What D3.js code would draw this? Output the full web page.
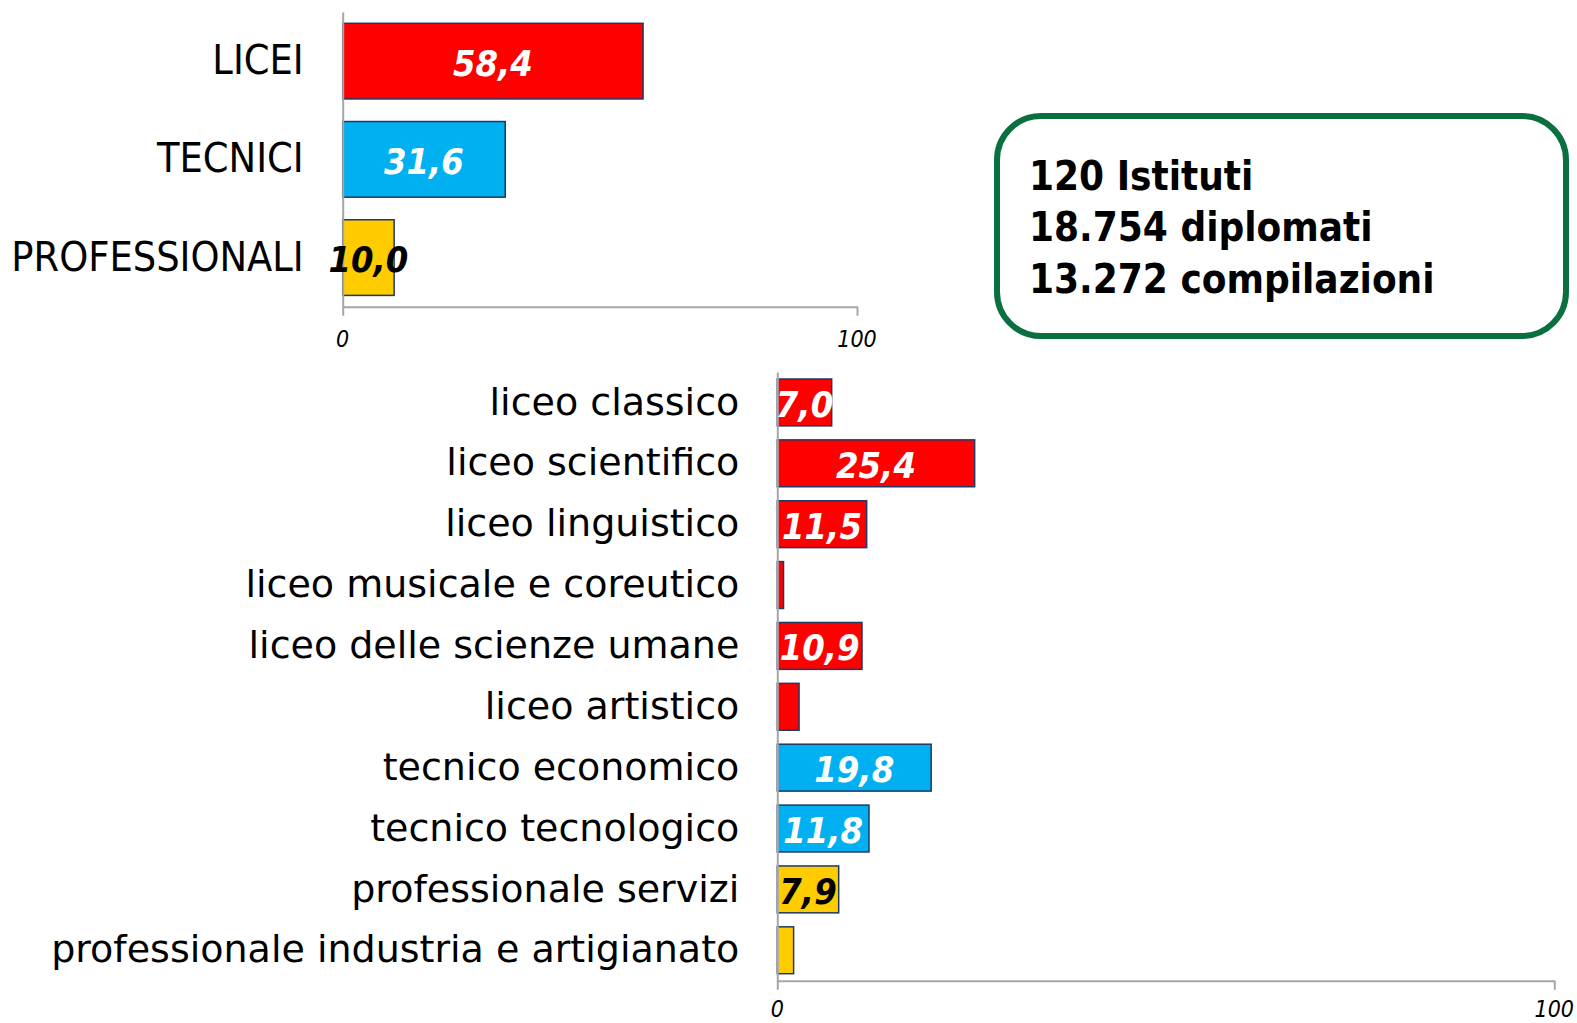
<!DOCTYPE html>
<html>
<head>
<meta charset="utf-8">
<script src="https://cdn.jsdelivr.net/npm/d3@7"></script>
<style>
  body { margin: 0; background: #fff; }
  svg { display: block; }
  .axis path, .axis line { stroke: #a6a6a6; stroke-width: 2; }
  .cat-label { fill: #000; }
  .tick-label { font-family: "DejaVu Sans Condensed", "DejaVu Sans", sans-serif; font-style: italic; font-size: 23px; fill: #000; }
  .value-label { font-family: "DejaVu Sans Condensed", "DejaVu Sans", sans-serif; font-style: italic; font-weight: bold; font-size: 36px; }
</style>
</head>
<body>
<div id="chart"></div>
<script>
// ---- data ----
const groupNames = ['LICEI', 'TECNICI', 'PROFESSIONALI'];
const groupValues = [58.4, 31.6, 10.0];
const groupTypes = ['liceo', 'tecnico', 'professionale'];

const schoolNames = [
  'liceo classico', 'liceo scientifico', 'liceo linguistico', 'liceo musicale e coreutico',
  'liceo delle scienze umane', 'liceo artistico', 'tecnico economico', 'tecnico tecnologico',
  'professionale servizi', 'professionale industria e artigianato'
];
const schoolValues = [7.0, 25.4, 11.5, 0.8, 10.9, 2.8, 19.8, 11.8, 7.9, 2.1];
const schoolTypes = ['liceo', 'liceo', 'liceo', 'liceo', 'liceo', 'liceo', 'tecnico', 'tecnico', 'professionale', 'professionale'];
// values shown on the bars (small ones were left unlabelled)
const schoolShown = [true, true, true, false, true, false, true, true, true, false];

const xTicks = [0, 100];
const infoLines = ['120 Istituti', '18.754 diplomati', '13.272 compilazioni'];

const typeColors = { liceo: '#ff0000', tecnico: '#00b0f0', professionale: '#ffcc00' };
const labelColors = { liceo: '#fff', tecnico: '#fff', professionale: '#000' };

const fmt = v => d3.format('.1f')(v).replace('.', ',');

const svg = d3.select('#chart').append('svg')
  .attr('width', 1577)
  .attr('height', 1023);

function drawChart(cfg) {
  const rows = cfg.names.map((n, i) => ({
    name: n, value: cfg.values[i], type: cfg.types[i], shown: cfg.shown ? cfg.shown[i] : true
  }));

  const x = d3.scaleLinear().domain([0, 100]).range(cfg.xRange);
  const y = d3.scaleBand().domain(cfg.names).range(cfg.yRange)
    .paddingInner(0.23).paddingOuter(0.115);

  const g = svg.append('g');

  // bars
  g.selectAll('rect.bar')
    .data(rows)
    .join('rect')
      .attr('class', 'bar')
      .attr('x', x(0))
      .attr('y', d => y(d.name))
      .attr('width', d => x(d.value) - x(0))
      .attr('height', y.bandwidth())
      .attr('fill', d => typeColors[d.type])
      .attr('stroke', '#1f3864')
      .attr('stroke-width', 1.5);

  // x axis
  const xAxis = d3.axisBottom(x)
    .tickValues(xTicks)
    .tickSize(9)
    .tickSizeOuter(0)
    .tickFormat('');
  g.append('g')
    .attr('class', 'axis')
    .attr('transform', `translate(0,${cfg.yRange[1]})`)
    .call(xAxis);

  g.selectAll('text.tick-label')
    .data(xTicks)
    .join('text')
      .attr('class', 'tick-label')
      .attr('x', d => x(d))
      .attr('y', cfg.yRange[1] + cfg.tickGap)
      .attr('text-anchor', 'middle')
      .attr('dominant-baseline', 'central')
      .text(d => d);

  // y axis with category labels
  const yAxis = d3.axisLeft(y).tickSize(0).tickSizeOuter(0).tickPadding(cfg.labelGap);
  const yg = g.append('g')
    .attr('class', 'axis')
    .attr('transform', `translate(${x(0)},0)`)
    .call(yAxis);
  yg.selectAll('.tick text')
    .attr('class', 'cat-label')
    .attr('font-family', cfg.labelFont)
    .attr('font-size', cfg.labelSize)
    .attr('fill', '#000');

  // value labels
  g.selectAll('text.value-label')
    .data(rows.filter(d => d.shown))
    .join('text')
      .attr('class', 'value-label')
      .attr('x', d => (x(0) + x(d.value)) / 2)
      .attr('y', d => y(d.name) + y.bandwidth() / 2 + 2)
      .attr('text-anchor', 'middle')
      .attr('dominant-baseline', 'central')
      .attr('fill', d => labelColors[d.type])
      .text(d => fmt(d.value));
}

drawChart({
  names: groupNames, values: groupValues, types: groupTypes,
  xRange: [342.7, 857], yRange: [12, 306.7], labelGap: 39, labelSize: 41,
  labelFont: '"DejaVu Sans Condensed", "DejaVu Sans", sans-serif', tickGap: 32
});

drawChart({
  names: schoolNames, values: schoolValues, types: schoolTypes, shown: schoolShown,
  xRange: [777.3, 1554.3], yRange: [372, 980.7], labelGap: 38, labelSize: 38,
  labelFont: '"DejaVu Sans", sans-serif', tickGap: 28
});

// ---- info box ----
const box = svg.append('g');
box.append('rect')
  .attr('x', 997)
  .attr('y', 116)
  .attr('width', 569)
  .attr('height', 220)
  .attr('rx', 44)
  .attr('fill', '#fff')
  .attr('stroke', '#0a7040')
  .attr('stroke-width', 6);

box.selectAll('text')
  .data(infoLines)
  .join('text')
    .attr('x', 1029)
    .attr('y', (d, i) => 190 + i * 51.3)
    .attr('font-family', '"DejaVu Sans Condensed", "DejaVu Sans", sans-serif')
    .attr('font-weight', 'bold')
    .attr('font-size', 40)
    .attr('fill', '#000')
    .text(d => d);
</script>
</body>
</html>
